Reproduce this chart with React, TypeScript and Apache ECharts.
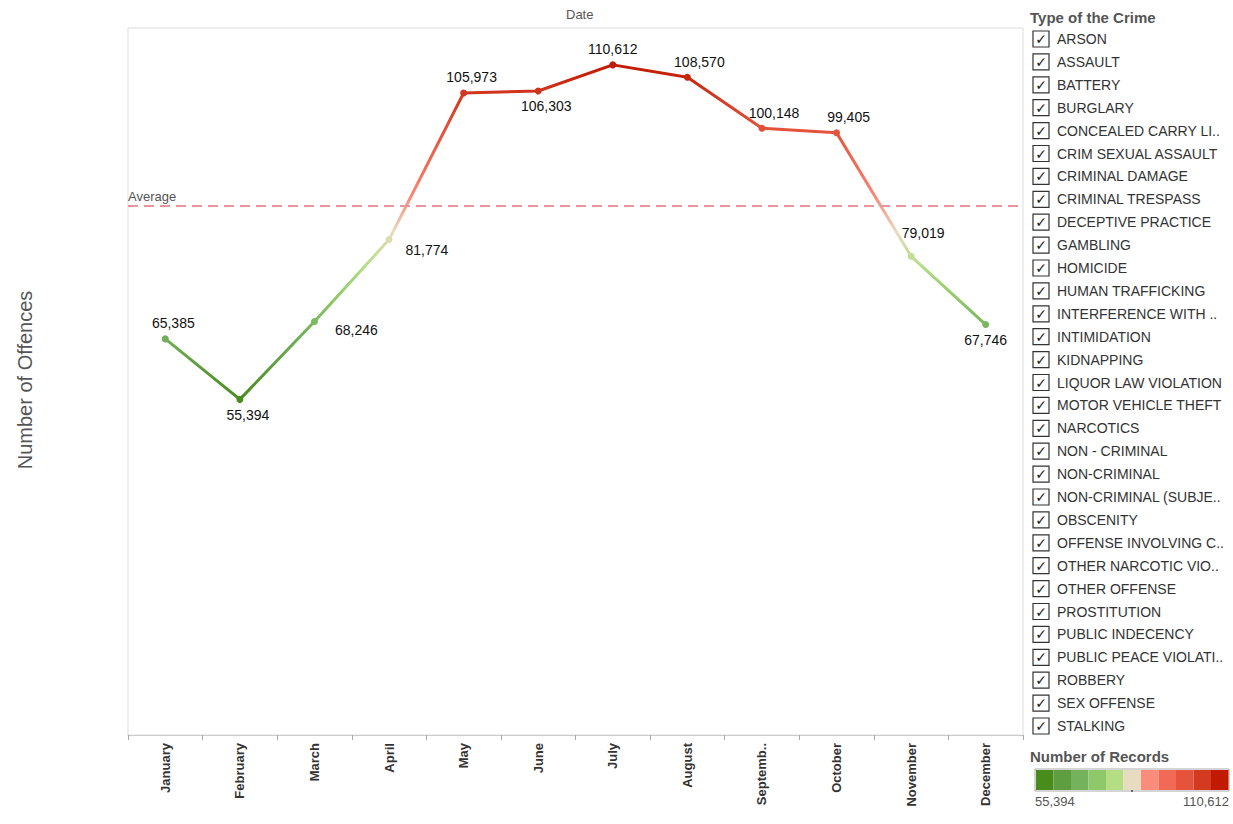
import React, { useEffect, useRef } from "react";
import * as echarts from "echarts";

const months = ["January","February","March","April","May","June","July","August","September","October","November","December"];
const offences = [65385,55394,68246,81774,105973,106303,110612,108570,100148,99405,79019,67746];
const labelPos = ["top","bottom","right","right","top","bottom","top","top","top","top","top","bottom"];
const labelOff = [[8,0],[8,0],[12,8],[8,10],[8,0],[8,0],[0,0],[12,0],[12,0],[12,0],[12,-8],[0,0]];
const crimeTypes = ["ARSON","ASSAULT","BATTERY","BURGLARY","CONCEALED CARRY LI..","CRIM SEXUAL ASSAULT","CRIMINAL DAMAGE","CRIMINAL TRESPASS","DECEPTIVE PRACTICE","GAMBLING","HOMICIDE","HUMAN TRAFFICKING","INTERFERENCE WITH ..","INTIMIDATION","KIDNAPPING","LIQUOR LAW VIOLATION","MOTOR VEHICLE THEFT","NARCOTICS","NON - CRIMINAL","NON-CRIMINAL","NON-CRIMINAL (SUBJE..","OBSCENITY","OFFENSE INVOLVING C..","OTHER NARCOTIC VIO..","OTHER OFFENSE","PROSTITUTION","PUBLIC INDECENCY","PUBLIC PEACE VIOLATI..","ROBBERY","SEX OFFENSE","STALKING"];
const palette = ["#4a8c1c","#5e9e40","#74b25c","#8fc86a","#b3de84","#e8dcc0","#fa8c7c","#f26a55","#e5533c","#d43a22","#c01a00"];

export default function App() {
  const ref = useRef<HTMLDivElement>(null);
  useEffect(() => {
    const chart = echarts.init(ref.current!, null, { renderer: "svg" });
    const min = Math.min(...offences), max = Math.max(...offences);
    const avg = offences.reduce((a, b) => a + b, 0) / offences.length;
    const graphics: any[] = [
      { type: "text", left: 566, top: 8, style: { text: "Date", fontSize: 13, fill: "#555", fontFamily: "Arial" } },
      { type: "text", x: 25, y: 380, rotation: Math.PI / 2, style: { text: "Number of Offences", fontSize: 20, fill: "#555", fontFamily: "Arial", align: "center", verticalAlign: "middle" } },
      { type: "text", x: 1030, y: 10, style: { text: "Type of the Crime", fontSize: 15, fontWeight: "bold", fill: "#555", fontFamily: "Arial" } },
      { type: "text", x: 1030, y: 749, style: { text: "Number of Records", fontSize: 15, fontWeight: "bold", fill: "#555", fontFamily: "Arial" } },
      { type: "text", x: 1035, y: 795, style: { text: "55,394", fontSize: 13, fill: "#555", fontFamily: "Arial" } },
      { type: "text", x: 1229, y: 795, style: { text: "110,612", fontSize: 13, fill: "#555", fontFamily: "Arial", align: "right" } },
      { type: "rect", shape: { x: 1035, y: 769, width: 194, height: 22 }, style: { fill: "none", stroke: "#aaa", lineWidth: 1 } },
      { type: "line", shape: { x1: 1132, y1: 786, x2: 1132, y2: 792 }, style: { stroke: "#000", lineWidth: 1 } },
    ];
    palette.forEach((c, i) => {
      graphics.push({ type: "rect", shape: { x: 1036 + i * 17.5, y: 770, width: 17.5, height: 20 }, style: { fill: c } });
    });
    crimeTypes.forEach((t, i) => {
      const y = 39 + i * 22.9;
      graphics.push({ type: "rect", shape: { x: 1033, y: y - 8, width: 16, height: 16 }, style: { fill: "#fff", stroke: "#333", lineWidth: 1.2 } });
      graphics.push({ type: "text", x: 1041, y, style: { text: "✓", fontSize: 14, fontWeight: "bold", fill: "#222", align: "center", verticalAlign: "middle", fontFamily: "DejaVu Sans" } });
      graphics.push({ type: "text", x: 1057, y, style: { text: t, fontSize: 14, fill: "#333", verticalAlign: "middle", fontFamily: "Arial" } });
    });
    chart.setOption({
      animation: false,
      grid: { left: 128, top: 28, width: 895, height: 707, show: true, borderColor: "#ddd", borderWidth: 1 },
      xAxis: {
        type: "category", data: months, boundaryGap: true,
        axisLine: { lineStyle: { color: "#ccc" } },
        axisTick: { show: true, length: 5, lineStyle: { color: "#aaa" } },
        axisLabel: { rotate: 90, fontWeight: "bold", fontSize: 13, color: "#333", fontFamily: "Arial", margin: 8,
          formatter: (v: string) => (v.length > 8 ? v.slice(0, 7) + ".." : v) },
      },
      yAxis: { type: "value", min: 0, max: 116700, show: false, splitLine: { show: false } },
      visualMap: { show: false, type: "continuous", min, max, dimension: 1, seriesIndex: 0, inRange: { color: palette } },
      series: [{
        type: "line", data: offences, symbol: "circle", symbolSize: 7, lineStyle: { width: 3 },
        label: { show: true, fontSize: 14, color: "#111", fontFamily: "Arial", formatter: (p: any) => p.value.toLocaleString("en-US") },
        labelLayout: {},
        data: offences.map((v, i) => ({ value: v, label: { position: labelPos[i], offset: labelOff[i] } })),
        markLine: {
          silent: true, symbol: "none",
          data: [{ yAxis: avg }],
          lineStyle: { color: "#e8959c", type: [10, 6], width: 2 },
          label: { show: true, position: "insideStartTop", formatter: "Average", color: "#555", fontSize: 13, fontFamily: "Arial", distance: [0, 3] },
        },
      }],
      graphic: graphics,
    });
    return () => chart.dispose();
  }, []);
  return <div ref={ref} style={{ position: "fixed", left: 0, top: 0, width: 1233, height: 824, background: "#fff" }} />;
}
